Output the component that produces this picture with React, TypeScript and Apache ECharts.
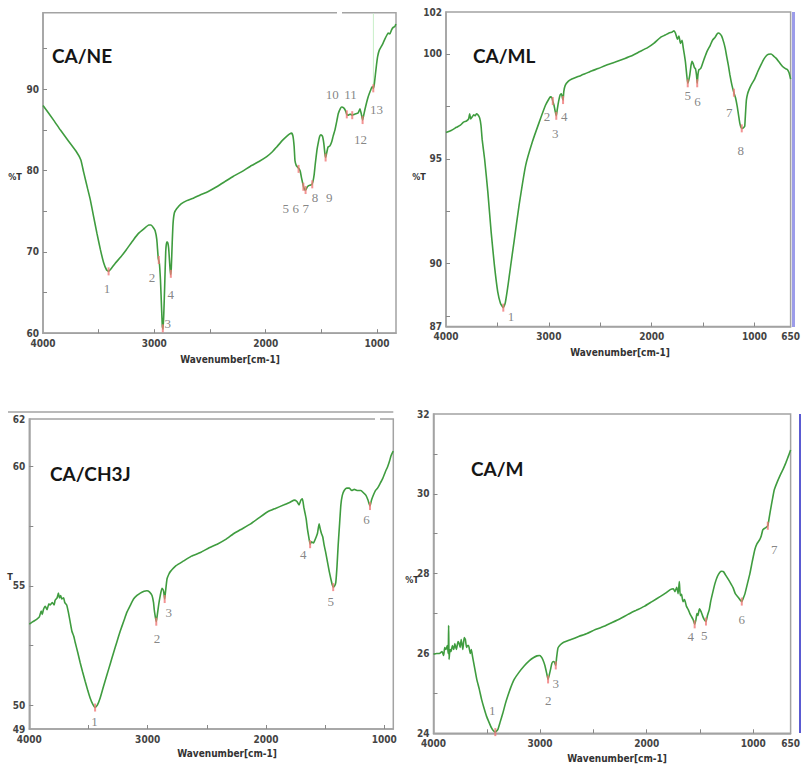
import React, { useEffect, useRef } from "react";
import * as echarts from "echarts";

// ---------- CA/NE ----------
const NE_WN = [4000, 3900, 3845, 3770, 3700, 3660, 3635, 3600, 3575, 3545, 3516, 3485, 3456, 3430, 3411, 3390, 3351, 3300, 3250, 3187, 3140, 3097, 3050, 3030, 3010, 2993, 2978, 2965, 2955, 2945, 2935, 2928, 2922, 2915, 2908, 2898, 2890, 2882, 2872, 2862, 2855, 2848, 2840, 2832, 2820, 2800, 2760, 2709, 2650, 2589, 2520, 2440, 2370, 2290, 2210, 2140, 2060, 1991, 1940, 1901, 1850, 1812, 1785, 1767, 1755, 1745, 1737, 1725, 1713, 1700, 1690, 1677, 1660, 1648, 1640, 1630, 1617, 1600, 1585, 1575, 1565, 1555, 1540, 1527, 1515, 1504, 1490, 1478, 1468, 1462, 1452, 1440, 1425, 1408, 1395, 1378, 1360, 1348, 1330, 1318, 1300, 1285, 1272, 1260, 1245, 1235, 1223, 1205, 1185, 1169, 1154, 1142, 1130, 1120, 1109, 1095, 1079, 1060, 1049, 1040, 1034, 1025, 1015, 1005, 995, 980, 960, 945, 925, 900, 885, 870, 855, 840, 831];
const NE_T = [88.0, 86.1, 85.0, 83.6, 82.3, 81.3, 79.8, 77.8, 76.4, 74.3, 72.3, 70.3, 68.7, 67.8, 67.6, 67.9, 68.6, 69.4, 70.3, 71.5, 72.3, 72.8, 73.3, 73.3, 73.0, 72.6, 71.5, 69.2, 68.6, 66.5, 63.0, 60.8, 60.5, 62.5, 65.5, 70.0, 71.2, 71.2, 70.5, 68.5, 67.2, 68.0, 71.0, 73.5, 74.8, 75.3, 75.9, 76.3, 76.6, 77.0, 77.4, 78.0, 78.6, 79.3, 79.9, 80.5, 81.1, 81.7, 82.3, 82.9, 83.7, 84.2, 84.5, 84.6, 84.2, 83.0, 81.2, 80.6, 80.4, 80.2, 79.9, 79.0, 78.0, 77.6, 77.6, 77.9, 78.1, 78.2, 78.3, 78.7, 79.5, 80.8, 82.5, 83.5, 84.2, 84.4, 84.2, 83.3, 82.0, 81.6, 82.2, 82.9, 83.0, 83.5, 84.2, 85.0, 86.2, 87.0, 87.6, 87.8, 87.7, 87.4, 86.9, 86.8, 86.9, 86.9, 86.8, 86.9, 87.0, 87.1, 87.6, 87.0, 86.2, 86.8, 87.5, 88.3, 89.1, 89.8, 90.2, 90.3, 90.1, 90.6, 91.8, 93.0, 94.0, 94.8, 95.3, 95.7, 96.3, 96.9, 96.8, 97.3, 97.6, 97.7, 98.0];
const NE_PEAK_WN = [3411, 2960, 2924, 2852, 1705, 1662, 1642, 1582, 1462, 1272, 1223, 1130, 1034];
const NE_PEAK_T = [67.6, 69.0, 60.6, 67.3, 80.2, 78.0, 77.6, 78.3, 81.6, 86.9, 86.8, 86.2, 90.1];
const NE_LABEL_WN = [3426, 3022, 2880, 2852, 1821, 1731, 1641, 1557, 1429, 1402, 1238, 1148, 1004];
const NE_LABEL_T = [65.5, 66.8, 61.2, 64.7, 75.3, 75.3, 75.3, 76.7, 76.7, 89.4, 89.4, 83.8, 87.5];
const NE_LABELS = ["1", "2", "3", "4", "5", "6", "7", "8", "9", "10", "11", "12", "13"];

// ---------- CA/ML ----------
const ML_WN = [4000, 3950, 3898, 3860, 3830, 3801, 3780, 3770, 3760, 3745, 3730, 3715, 3705, 3690, 3673, 3660, 3648, 3625, 3593, 3561, 3529, 3497, 3470, 3443, 3425, 3405, 3385, 3360, 3337, 3289, 3225, 3161, 3097, 3033, 3000, 2985, 2970, 2962, 2950, 2940, 2928, 2920, 2905, 2890, 2878, 2868, 2862, 2855, 2841, 2810, 2777, 2700, 2649, 2580, 2521, 2450, 2361, 2280, 2200, 2120, 2040, 1980, 1912, 1870, 1832, 1800, 1784, 1770, 1750, 1736, 1720, 1705, 1694, 1684, 1672, 1660, 1650, 1640, 1630, 1618, 1608, 1598, 1585, 1575, 1565, 1558, 1550, 1541, 1525, 1512, 1495, 1480, 1460, 1432, 1410, 1384, 1365, 1352, 1335, 1320, 1300, 1285, 1272, 1255, 1240, 1220, 1201, 1185, 1169, 1155, 1144, 1132, 1120, 1105, 1096, 1088, 1080, 1068, 1054, 1030, 1000, 970, 936, 910, 888, 865, 840, 815, 792, 760, 728, 700, 680, 665, 650];
const ML_T = [96.25, 96.35, 96.5, 96.6, 96.75, 96.8, 96.9, 97.15, 96.9, 97.0, 97.1, 97.05, 97.15, 97.1, 96.95, 96.6, 95.9, 95.0, 93.4, 91.5, 89.9, 88.65, 88.1, 87.9, 88.1, 88.7, 89.4, 90.3, 91.1, 92.8, 94.7, 95.8, 96.7, 97.55, 97.85, 97.95, 97.9, 97.75, 97.55, 97.3, 97.05, 97.3, 97.75, 98.05, 98.1, 97.9, 97.8, 98.2, 98.5, 98.7, 98.8, 98.95, 99.05, 99.2, 99.3, 99.45, 99.6, 99.75, 99.9, 100.1, 100.3, 100.5, 100.8, 100.9, 101.0, 101.05, 101.1, 101.0, 100.7, 100.85, 100.5, 100.65, 100.3, 100.0, 99.6, 99.0, 98.6, 98.75, 99.0, 99.45, 99.65, 99.55, 99.35, 99.3, 99.0, 98.6, 99.05, 99.25, 99.3, 99.45, 99.7, 99.9, 100.15, 100.4, 100.65, 100.8, 100.95, 101.0, 100.95, 100.85, 100.55, 100.25, 99.9, 99.45, 99.0, 98.5, 98.15, 97.9, 97.5, 97.05, 96.7, 96.5, 96.45, 96.5, 96.55, 97.2, 97.8, 98.1, 98.3, 98.55, 98.8, 99.15, 99.5, 99.75, 99.9, 99.98, 100.0, 99.9, 99.8, 99.6, 99.4, 99.3, 99.25, 99.1, 98.8];
const ML_PEAK_WN = [3443, 2962, 2928, 2862, 1650, 1558, 1201, 1125];
const ML_PEAK_T = [87.9, 97.75, 97.05, 97.8, 98.6, 98.6, 98.15, 96.45];
const ML_LABEL_WN = [3369, 3017, 2937, 2850, 1650, 1554, 1246, 1134];
const ML_LABEL_T = [87.5, 97.0, 96.2, 97.0, 98.0, 97.75, 97.2, 95.4];
const ML_LABELS = ["1", "2", "3", "4", "5", "6", "7", "8"];

// ---------- CA/CH3J ----------
const CH_WN = [4000, 3970, 3938, 3915, 3900, 3890, 3881, 3865, 3850, 3835, 3825, 3805, 3790, 3782, 3765, 3754, 3745, 3735, 3726, 3710, 3700, 3684, 3670, 3655, 3640, 3625, 3613, 3590, 3571, 3550, 3528, 3505, 3486, 3465, 3444, 3425, 3401, 3375, 3345, 3315, 3288, 3260, 3232, 3200, 3175, 3150, 3119, 3090, 3062, 3030, 3006, 2985, 2963, 2950, 2944, 2935, 2927, 2918, 2907, 2893, 2879, 2870, 2864, 2856, 2848, 2836, 2820, 2808, 2760, 2695, 2630, 2554, 2480, 2412, 2340, 2271, 2200, 2130, 2060, 1989, 1920, 1847, 1800, 1763, 1740, 1720, 1705, 1692, 1680, 1672, 1660, 1650, 1640, 1627, 1615, 1600, 1593, 1580, 1565, 1551, 1542, 1531, 1520, 1508, 1495, 1480, 1465, 1452, 1440, 1432, 1420, 1410, 1400, 1390, 1378, 1367, 1355, 1339, 1318, 1297, 1275, 1254, 1225, 1198, 1175, 1155, 1138, 1121, 1108, 1093, 1075, 1057, 1035, 1014, 990, 972, 955, 944, 930, 924];
const CH_T = [53.4, 53.5, 53.6, 53.7, 53.95, 53.8, 54.0, 54.15, 54.0, 54.25, 54.2, 54.3, 54.2, 54.4, 54.5, 54.7, 54.5, 54.6, 54.45, 54.5, 54.3, 54.2, 53.9, 53.5, 53.1, 52.9, 52.65, 52.2, 51.8, 51.4, 51.0, 50.6, 50.3, 50.05, 49.9, 50.0, 50.3, 50.75, 51.25, 51.75, 52.2, 52.65, 53.1, 53.55, 53.9, 54.15, 54.45, 54.6, 54.7, 54.78, 54.8, 54.75, 54.6, 54.3, 54.0, 53.7, 53.5, 53.8, 54.2, 54.6, 54.9, 54.85, 54.75, 54.45, 54.8, 55.3, 55.5, 55.6, 55.85, 56.05, 56.25, 56.4, 56.6, 56.75, 56.95, 57.2, 57.4, 57.6, 57.85, 58.1, 58.25, 58.4, 58.5, 58.6, 58.55, 58.4, 58.6, 58.65, 58.3, 58.1, 57.8, 57.4, 57.1, 56.75, 56.85, 56.8, 56.85, 57.0, 57.2, 57.6, 57.4, 57.2, 57.05, 56.7, 56.4, 56.0, 55.6, 55.3, 55.05, 54.95, 55.0, 55.15, 55.8, 56.7, 57.6, 58.4, 58.8, 59.0, 59.1, 59.1, 59.0, 59.05, 59.0, 59.0, 58.9, 58.8, 58.6, 58.35, 58.6, 58.8, 59.0, 59.1, 59.3, 59.5, 59.8, 60.0, 60.25, 60.45, 60.6, 60.65];
const CH_PEAK_WN = [3444, 2927, 2856, 1627, 1432, 1121];
const CH_PEAK_T = [49.9, 53.5, 54.45, 56.75, 54.95, 58.35];
const CH_LABEL_WN = [3449, 2921, 2822, 1686, 1452, 1150];
const CH_LABEL_T = [49.3, 52.8, 53.9, 56.3, 54.35, 57.8];
const CH_LABELS = ["1", "2", "3", "4", "5", "6"];

// ---------- CA/M ----------
const M_WN = [4000, 3970, 3945, 3920, 3905, 3895, 3884, 3870, 3862, 3858, 3854, 3845, 3835, 3823, 3810, 3800, 3785, 3770, 3762, 3750, 3740, 3725, 3712, 3701, 3690, 3680, 3671, 3655, 3645, 3634, 3615, 3594, 3570, 3549, 3525, 3503, 3480, 3457, 3440, 3420, 3396, 3375, 3350, 3325, 3304, 3275, 3243, 3200, 3152, 3100, 3060, 3030, 3006, 2990, 2975, 2955, 2938, 2925, 2915, 2902, 2890, 2877, 2865, 2853, 2845, 2832, 2810, 2786, 2710, 2633, 2560, 2481, 2400, 2328, 2250, 2176, 2100, 2023, 1950, 1871, 1820, 1779, 1750, 1735, 1718, 1705, 1694, 1685, 1673, 1660, 1645, 1627, 1610, 1595, 1581, 1565, 1550, 1538, 1529, 1520, 1505, 1490, 1474, 1460, 1444, 1430, 1413, 1400, 1383, 1360, 1337, 1315, 1297, 1280, 1261, 1240, 1215, 1190, 1169, 1140, 1120, 1108, 1095, 1078, 1055, 1032, 1010, 986, 965, 940, 925, 910, 885, 864, 848, 833, 818, 803, 775, 742, 720, 696, 670, 650];
const M_T = [25.98, 26.0, 26.0, 26.05, 25.95, 26.15, 26.1, 26.2, 26.0, 26.7, 25.85, 26.1, 26.05, 26.2, 26.1, 26.25, 26.1, 26.3, 26.27, 26.15, 26.35, 26.1, 26.4, 26.35, 26.15, 26.2, 26.2, 26.0, 26.1, 25.93, 25.65, 25.35, 25.1, 24.85, 24.62, 24.43, 24.28, 24.14, 24.07, 24.03, 24.1, 24.28, 24.5, 24.75, 24.93, 25.15, 25.35, 25.52, 25.68, 25.82, 25.9, 25.94, 25.95, 25.92, 25.85, 25.7, 25.5, 25.35, 25.45, 25.6, 25.75, 25.8, 25.78, 25.7, 25.9, 26.14, 26.22, 26.27, 26.35, 26.43, 26.5, 26.6, 26.68, 26.77, 26.87, 26.98, 27.08, 27.18, 27.3, 27.43, 27.52, 27.6, 27.62, 27.55, 27.66, 27.5, 27.8, 27.45, 27.48, 27.3, 27.35, 27.18, 27.1, 27.0, 26.93, 26.85, 26.73, 26.85, 27.0, 26.95, 27.12, 27.05, 26.93, 26.85, 26.8, 26.95, 27.1, 27.3, 27.5, 27.75, 27.93, 28.03, 28.06, 28.05, 27.97, 27.88, 27.77, 27.65, 27.5, 27.4, 27.33, 27.3, 27.38, 27.5, 27.75, 28.0, 28.3, 28.6, 28.75, 28.85, 28.95, 29.1, 29.15, 29.2, 29.45, 29.68, 29.9, 30.1, 30.3, 30.5, 30.62, 30.77, 30.95, 31.1];
const M_PEAK_WN = [3420, 2925, 2853, 1550, 1444, 1108, 864];
const M_PEAK_T = [24.03, 25.35, 25.7, 26.73, 26.8, 27.3, 29.2];
const M_LABEL_WN = [3448, 2923, 2853, 1587, 1459, 1108, 803];
const M_LABEL_T = [24.56, 24.83, 25.25, 26.43, 26.45, 26.85, 28.6];
const M_LABELS = ["1", "2", "3", "4", "5", "6", "7"];

// ---------- axes ----------
const X_TICKS = [3500, 3000, 2500, 2000, 1500, 1000];
const X_LABELS_A = [4000, 3000, 2000, 1000];
const X_LABELS_B = [4000, 3000, 2000, 1000, 650];
const NE_Y_LABELS = [60, 70, 80, 90];
const NE_Y_TICKS = [65, 70, 75, 80, 85, 90, 95];
const ML_Y_LABELS = [87, 90, 95, 100, 102];
const ML_Y_TICKS = [87.5, 90, 92.5, 95, 97.5, 100];
const CH_Y_LABELS = [49, 50, 55, 60, 62];
const CH_Y_TICKS = [50, 52.5, 55, 57.5, 60];
const M_Y_LABELS = [24, 26, 28, 30, 32];
const M_Y_TICKS = [25, 26, 27, 28, 29, 30, 31];

const TITLES = ["CA/NE", "CA/ML", "CA/CH3J", "CA/M"];

const GREEN = "#3f9c3f";
const AXIS = "#a3a3a3";
const NARROW = "'Liberation Sans Narrow', 'DejaVu Sans Condensed', 'Roboto Condensed', 'Liberation Sans', sans-serif";

const zip = (a: number[], b: number[]) => a.map((v, i) => [v, b[i]]);

const PANELS = [
  { wn: NE_WN, t: NE_T, pw: NE_PEAK_WN, pt: NE_PEAK_T, lw: NE_LABEL_WN, lt: NE_LABEL_T, ls: NE_LABELS,
    grid: { left: 43, top: 12.7, width: 353, height: 320.5 }, xmin: 830, xl: X_LABELS_A,
    ymin: 60, ymax: 99.4, yl: NE_Y_LABELS, yt: NE_Y_TICKS },
  { wn: ML_WN, t: ML_T, pw: ML_PEAK_WN, pt: ML_PEAK_T, lw: ML_LABEL_WN, lt: ML_LABEL_T, ls: ML_LABELS,
    grid: { left: 446, top: 12, width: 348, height: 314.5 }, xmin: 650, xl: X_LABELS_B,
    ymin: 87, ymax: 102, yl: ML_Y_LABELS, yt: ML_Y_TICKS },
  { wn: CH_WN, t: CH_T, pw: CH_PEAK_WN, pt: CH_PEAK_T, lw: CH_LABEL_WN, lt: CH_LABEL_T, ls: CH_LABELS,
    grid: { left: 29.3, top: 419, width: 364, height: 310 }, xmin: 924, xl: X_LABELS_A,
    ymin: 49, ymax: 62, yl: CH_Y_LABELS, yt: CH_Y_TICKS },
  { wn: M_WN, t: M_T, pw: M_PEAK_WN, pt: M_PEAK_T, lw: M_LABEL_WN, lt: M_LABEL_T, ls: M_LABELS,
    grid: { left: 433.5, top: 414, width: 366.5, height: 319.3 }, xmin: 650, xl: X_LABELS_B,
    ymin: 24, ymax: 32, yl: M_Y_LABELS, yt: M_Y_TICKS },
];

const TITLE_POS = [[52, 55], [473, 55], [50, 473], [471, 468]];
const XNAME_POS = [[230, 359], [620, 352], [227, 753], [617, 758]];
const YNAME = [
  { text: "%T", x: 15, y: 177 },
  { text: "%T", x: 419, y: 177 },
  { text: "T", x: 10, y: 577 },
  { text: "%T", x: 412, y: 580 },
];

const plain = (v: number) => String(v);

function buildOption() {
  const grid: any[] = [];
  const xAxis: any[] = [];
  const yAxis: any[] = [];
  const series: any[] = [];
  PANELS.forEach((p, i) => {
    grid.push({ ...p.grid, show: true, borderColor: AXIS, borderWidth: 1.5, backgroundColor: "transparent" });
    xAxis.push({
      type: "value", gridIndex: i, inverse: true, min: p.xmin, max: 4000,
      axisLine: { show: true, onZero: false, lineStyle: { color: AXIS, width: 1.5 } },
      axisTick: { show: true, inside: true, length: 4, customValues: X_TICKS, lineStyle: { color: "#888" } },
      axisLabel: { customValues: p.xl, formatter: plain, margin: 5, fontSize: 10, fontWeight: "bold", fontFamily: NARROW, color: "#444" },
      splitLine: { show: false },
    });
    yAxis.push({
      type: "value", gridIndex: i, min: p.ymin, max: p.ymax,
      axisLine: { show: true, onZero: false, lineStyle: { color: AXIS, width: 1.5 } },
      axisTick: { show: true, inside: true, length: 4, customValues: p.yt, lineStyle: { color: "#888" } },
      axisLabel: { customValues: p.yl, formatter: plain, margin: 4, fontSize: 10, fontWeight: "bold", fontFamily: NARROW, color: "#444" },
      splitLine: { show: false },
    });
    series.push({
      type: "line", xAxisIndex: i, yAxisIndex: i, data: zip(p.wn, p.t), showSymbol: false, smooth: 0.15,
      lineStyle: { color: GREEN, width: 1.6 }, z: 3,
    });
    series.push({
      type: "scatter", xAxisIndex: i, yAxisIndex: i, data: zip(p.pw, p.pt), symbol: "rect", symbolSize: [2, 8],
      itemStyle: { color: "#f07878" }, z: 4,
    });
    series.push({
      type: "scatter", xAxisIndex: i, yAxisIndex: i, symbolSize: 0,
      data: p.lw.map((w, k) => ({ value: [w, p.lt[k]], name: p.ls[k] })),
      label: { show: true, position: "inside", formatter: "{b}", fontFamily: "'Liberation Serif', 'DejaVu Serif', serif", fontSize: 13, color: "#666", textBorderWidth: 0, textBorderColor: "transparent" },
      z: 5,
    });
  });

  const graphic: any[] = [];
  TITLES.forEach((t, i) => {
    graphic.push({ type: "text", x: TITLE_POS[i][0], y: TITLE_POS[i][1],
      style: { text: t, fontSize: 19, fontWeight: "bold", fontFamily: "Lato, 'Open Sans', sans-serif", fill: "#151515", textVerticalAlign: "middle" } });
    graphic.push({ type: "text", x: XNAME_POS[i][0], y: XNAME_POS[i][1],
      style: { text: "Wavenumber[cm-1]", fontSize: 10, fontWeight: "bold", fontFamily: NARROW, fill: "#333", textAlign: "center", textVerticalAlign: "middle" } });
    graphic.push({ type: "text", x: YNAME[i].x, y: YNAME[i].y,
      style: { text: YNAME[i].text, fontSize: 9, fontWeight: "bold", fontFamily: NARROW, fill: "#333", textAlign: "center", textVerticalAlign: "middle" } });
  });
  // frame details
  graphic.push({ type: "rect", shape: { x: 337, y: 10, width: 5, height: 5 }, style: { fill: "#fff" }, z: 100 });
  graphic.push({ type: "line", shape: { x1: 373.4, y1: 13.5, x2: 373.4, y2: 86 }, style: { stroke: "#c9efc9", lineWidth: 1 } });
  graphic.push({ type: "line", shape: { x1: 8, y1: 412, x2: 393.3, y2: 412 }, style: { stroke: AXIS, lineWidth: 1.5 } });
  graphic.push({ type: "rect", shape: { x: 375, y: 417, width: 5, height: 4 }, style: { fill: "#fff" }, z: 100 });
  graphic.push({ type: "rect", shape: { x: 792, y: 12, width: 3, height: 315 }, style: { fill: "#9c9ce9" }, z: 100 });
  graphic.push({ type: "line", shape: { x1: 800, y1: 414, x2: 800, y2: 733 }, style: { stroke: "#5a5ad2", lineWidth: 2 }, z: 100 });

  return { animation: false, backgroundColor: "#fff", grid, xAxis, yAxis, series, graphic };
}

export default function App() {
  const ref = useRef<HTMLDivElement>(null);
  useEffect(() => {
    const chart = echarts.init(ref.current!, null, { renderer: "svg" });
    chart.setOption(buildOption() as any);
    return () => chart.dispose();
  }, []);
  return <div ref={ref} style={{ position: "fixed", left: 0, top: 0, width: 803, height: 765, background: "#fff" }} />;
}
